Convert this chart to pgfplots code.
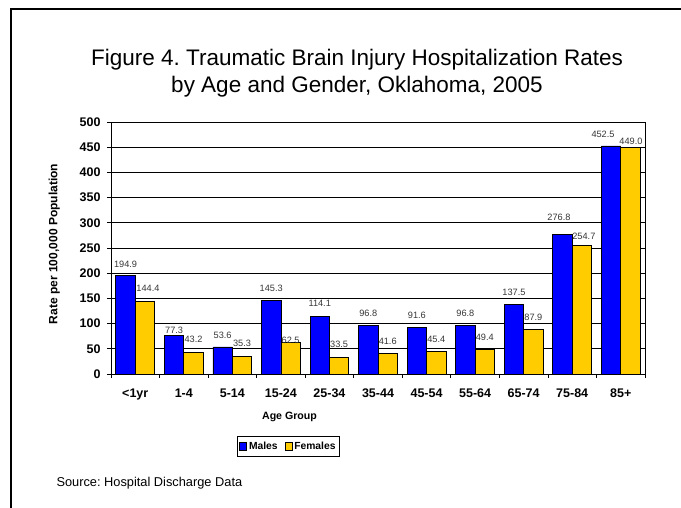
\documentclass[border=0pt]{standalone}
\usepackage{pgfplots}
\usepackage{pgfplotstable}
\pgfplotsset{compat=1.18}
\usepackage{fontspec}
\setmainfont{Liberation Sans}
\frenchspacing
\definecolor{mblue}{RGB}{0,0,255}
\definecolor{fgold}{RGB}{255,204,0}
\pgfplotstableread{
x  m      mdx   mdy   f      fdx  fdy
0  194.9  0     11.5  144.4  3    12.5
1  77.3   0     4.5   43.2   0    12.5
2  53.6   0     12    35.3   0    12.5
3  145.3  0     12.3  62.5   0    2.5
4  114.1  0     13    33.5   0    12.5
5  96.8   0     12    41.6   0    12
6  91.6   0     12    45.4   0    11.5
7  96.8   0     12    49.4   0    11.7
8  137.5  0     12    87.9   0    12
9  276.8  -3.5  17    254.7  2    9
10 452.5  -8    11.5  449.0  0.5  6
}\data
\begin{document}
\begin{tikzpicture}[x=1pt,y=1pt]
\useasboundingbox (0,0) rectangle (681,508);
\fill[white] (0,0) rectangle (681,508);
\draw[line width=2pt] (11,0) -- (11,498.5) -- (681,498.5);
\node[anchor=base,font=\fontsize{22.5}{27}\selectfont] at (357,508-66) {Figure 4. Traumatic Brain Injury Hospitalization Rates};
\node[anchor=base,font=\fontsize{22.5}{27}\selectfont] at (357,508-93) {by Age and Gender, Oklahoma, 2005};
\node[rotate=90,font=\fontsize{12}{14}\selectfont\bfseries] at (54.3,508-244) {Rate per 100,000 Population};
\node[font=\fontsize{10.6}{12}\selectfont\bfseries] at (289.5,508-416.7) {Age Group};
\node[anchor=west,font=\fontsize{12.8}{15}\selectfont] at (53,508-483) {Source: Hospital Discharge Data};
\begin{axis}[
  at={(111pt,134pt)}, anchor=south west,
  scale only axis, width=534pt, height=252pt,
  xmin=-0.5, xmax=10.5, ymin=0, ymax=500,
  ytick={0,50,...,500},
  xtick={0,...,10},
  xticklabels={<1yr,1-4,5-14,15-24,25-34,35-44,45-54,55-64,65-74,75-84,85+},
  minor xtick={-0.5,0.5,...,10.5},
  major x tick style={draw=none},
  tick align=outside, major tick length=4pt, minor tick length=4pt,
  xtick pos=bottom, ytick pos=left,
  tick style={black, line width=0.8pt},
  axis line style={black, line width=0.9pt},
  ymajorgrids, grid style={black, line width=0.8pt},
  /pgf/number format/assume math mode=true,
  yticklabel style={font=\fontsize{12.5}{14}\selectfont\bfseries, xshift=-3pt},
  xticklabel style={font=\fontsize{12.5}{14}\selectfont\bfseries, yshift=-7pt},
  ybar, bar width=0.4,
  nodes near coords={\pgfmathprintnumber[fixed,fixed zerofill,precision=1]{\pgfplotspointmeta}},
  every node near coord/.append style={font=\fontsize{9.2}{10}\selectfont, text=black!78, anchor=center, xshift=\ldx pt, yshift=\ldy pt},
  legend columns=2,
  legend style={at={(0.3324,-0.2877)}, anchor=center, draw=black, line width=0.8pt,
    font=\fontsize{10.3}{12}\selectfont\bfseries, inner xsep=2pt, inner ysep=3.2pt,
    /tikz/every even column/.append style={column sep=5pt}},
  legend image code/.code={\draw[#1, line width=0.6pt] (0pt,-3.8pt) rectangle (7pt,3.8pt);},
]
\addplot[fill=mblue, draw=black, line width=0.8pt, bar shift=-0.2,
  visualization depends on={\thisrow{mdx} \as \ldx},
  visualization depends on={\thisrow{mdy} \as \ldy}]
  table[x=x, y=m] {\data};
\addplot[fill=fgold, draw=black, line width=0.8pt, bar shift=0.2,
  visualization depends on={\thisrow{fdx} \as \ldx},
  visualization depends on={\thisrow{fdy} \as \ldy}]
  table[x=x, y=f] {\data};
\legend{Males,Females}
\end{axis}
\end{tikzpicture}
\end{document}
